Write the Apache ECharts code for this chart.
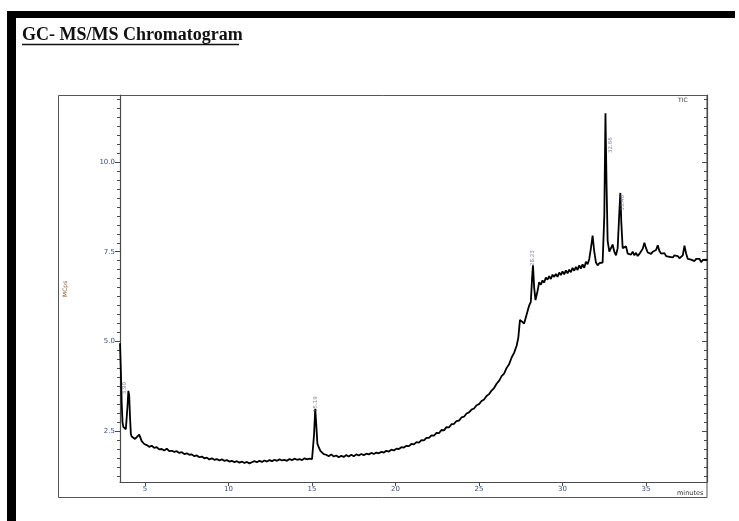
<!DOCTYPE html>
<html>
<head>
<meta charset="utf-8">
<script src="https://cdn.jsdelivr.net/npm/echarts@6/dist/echarts.min.js"></script>
<style>
html,body{margin:0;padding:0;background:#fff;}
#c{width:739px;height:521px;}
</style>
</head>
<body>
<div id="c"></div>
<script>
// Retention times (minutes), read segment by segment
var timesA = [3.50,3.55,3.60,3.65,3.70,3.75,3.80,3.85,3.90,3.95,
              4.00,4.05,4.10,4.15,4.20,4.30,4.40];
var mcpsA  = [4.95,4.20,3.30,2.75,2.62,2.58,2.60,2.55,2.52,3.20,
              3.62,3.50,2.90,2.42,2.35,2.30,2.28];

var timesB = [4.50,4.65,4.80,4.95,5.10,5.25,5.40,5.55,5.70,5.85,
              6.00,6.15,6.30,6.45,6.60,6.75,6.90,7.05,7.20,7.35,
              7.50,7.65,7.80,7.95,8.10,8.25,8.40,8.55,8.70,8.85,
              9.00,9.15,9.30,9.45,9.60,9.75,9.90,10.05,10.20,10.35,
              10.50,10.65,10.80,10.95,11.10,11.25,11.40,11.55,11.70,11.85,
              12.00,12.15,12.30,12.45,12.60,12.75,12.90,13.05,13.20,13.35,
              13.50,13.65,13.80,13.95,14.10,14.25,14.40,14.55,14.70,14.85,
              15.00];
var mcpsB  = [2.30,2.40,2.22,2.14,2.11,2.06,2.09,2.03,2.05,1.99,
              2.00,1.96,2.01,1.94,1.95,1.92,1.94,1.89,1.91,1.86,
              1.88,1.84,1.85,1.80,1.82,1.77,1.79,1.74,1.76,1.71,
              1.74,1.70,1.72,1.68,1.71,1.67,1.69,1.65,1.67,1.63,
              1.66,1.62,1.65,1.61,1.64,1.60,1.63,1.66,1.63,1.67,
              1.64,1.68,1.65,1.69,1.66,1.70,1.67,1.71,1.68,1.70,
              1.67,1.72,1.69,1.73,1.70,1.72,1.69,1.74,1.71,1.73,
              1.72];

var timesC = [15.05,15.12,15.19,15.25,15.32,15.40,15.50,15.60,15.70];
var mcpsC  = [1.75,2.40,3.12,2.70,2.15,2.05,1.95,1.90,1.86];

var timesD = [15.85,16.00,16.15,16.30,16.45,16.60,16.75,16.90,17.05,17.20,
              17.35,17.50,17.65,17.80,17.95,18.10,18.25,18.40,18.55,18.70,
              18.85,19.00,19.15,19.30,19.45,19.60,19.75,19.90,20.05,20.20,
              20.35,20.50,20.65,20.80,20.95,21.10,21.25,21.40,21.55,21.70,
              21.85,22.00,22.15,22.30,22.45,22.60,22.75,22.90,23.05,23.20,
              23.35,23.50,23.65,23.80,23.95,24.10,24.25,24.40,24.55,24.70,
              24.85,25.00,25.15,25.30,25.45,25.60,25.75,25.90,26.05,26.20,
              26.35,26.50,26.65,26.80,26.95,27.10,27.25];
var mcpsD  = [1.84,1.80,1.85,1.79,1.82,1.77,1.81,1.78,1.83,1.79,
              1.84,1.80,1.85,1.82,1.86,1.83,1.87,1.85,1.89,1.86,
              1.90,1.88,1.92,1.90,1.95,1.93,1.98,1.96,2.01,2.00,
              2.05,2.04,2.09,2.08,2.14,2.13,2.19,2.18,2.25,2.24,
              2.31,2.31,2.38,2.37,2.45,2.44,2.53,2.52,2.61,2.60,
              2.69,2.70,2.78,2.79,2.88,2.90,2.99,3.02,3.10,3.13,
              3.22,3.25,3.34,3.38,3.48,3.53,3.63,3.70,3.82,3.90,
              4.03,4.10,4.26,4.36,4.55,4.68,4.88];

var timesE = [27.35,27.45,27.55,27.70,27.85,28.00,28.10,28.18,28.23,28.30,
              28.38,28.50];
var mcpsE  = [5.10,5.60,5.55,5.50,5.75,6.00,6.10,6.80,7.12,6.50,
              6.15,6.40];

var timesF = [28.60,28.70,28.80,28.90,29.00,29.10,29.20,29.30,29.40,29.50,
              29.60,29.70,29.80,29.90,30.00,30.10,30.20,30.30,30.40,30.50,
              30.60,30.70,30.80,30.90,31.00,31.10,31.20,31.30,31.40,31.50,
              31.60,31.70,31.80,31.90,32.00,32.10,32.20,32.30,32.40,32.50,
              32.57,32.63,32.70,32.80,32.90,33.00,33.10,33.20,33.30,33.40,
              33.46,33.52,33.60,33.70,33.80,33.90,34.00,34.10,34.20,34.30,
              34.40,34.50,34.60,34.70,34.80,34.90,35.00,35.10,35.20,35.30,
              35.40,35.50,35.60,35.70,35.80,35.90,36.00,36.10,36.20,36.30,
              36.40,36.50,36.60,36.70,36.80,36.90,37.00,37.10,37.20,37.30,
              37.40,37.50,37.60,37.70,37.80,37.90,38.00,38.10,38.20,38.30,
              38.40,38.50,38.60,38.65];
var mcpsF  = [6.65,6.58,6.70,6.64,6.78,6.72,6.82,6.74,6.86,6.80,
              6.88,6.80,6.92,6.85,6.95,6.87,6.98,6.90,7.00,6.93,
              7.05,6.97,7.08,6.99,7.12,7.03,7.15,7.05,7.22,7.15,
              7.30,7.60,7.95,7.50,7.20,7.12,7.18,7.13,7.20,8.50,
              11.36,9.50,7.80,7.50,7.45,7.70,7.50,7.40,7.60,8.60,
              9.14,8.30,7.60,7.55,7.65,7.45,7.50,7.42,7.50,7.40,
              7.47,7.38,7.44,7.40,7.58,7.75,7.60,7.48,7.52,7.44,
              7.50,7.46,7.55,7.68,7.52,7.45,7.42,7.46,7.38,7.43,
              7.36,7.41,7.34,7.40,7.35,7.38,7.32,7.37,7.40,7.67,
              7.45,7.30,7.34,7.28,7.32,7.24,7.30,7.26,7.30,7.21,
              7.27,7.24,7.28,7.25];

var times = [].concat(timesA, timesB, timesC, timesD, timesE, timesF);
var mcps  = [].concat(mcpsA, mcpsB, mcpsC, mcpsD, mcpsE, mcpsF);

// Peak annotations
var peakNames = ["3.90","15.19","28.23","32.66","33.46"];
var peakLabelTimes = [3.80,15.24,28.23,32.88,33.62];
var peakLabelValues = [3.70,3.25,7.32,10.47,8.86];
// Axis ticks
var xTickLabels = [5,10,15,20,25,30,35];
var yTickLabels = [2.5,5.0,7.5,10.0];
var yMin = 1.08, yMax = 11.87, xMin = 3.5, xMax = 38.65;
var yMinorTicks = [];
for (var k = 5; k <= 47; k++) { yMinorTicks.push(k * 0.25); }

var lineData = times.map(function(t, i){ return [t, mcps[i]]; });
var peakData = peakNames.map(function(n, i){ return {name: n, value: [peakLabelTimes[i], peakLabelValues[i]]}; });

var axisCol = '#4a4a4a';
var lblCol = '#3e4f7c';

var chart = echarts.init(document.getElementById('c'), null, {renderer: 'canvas'});
chart.setOption({
  backgroundColor: '#fff',
  animation: false,
  grid: {left: 120, top: 95, right: 32, bottom: 39, containLabel: false},
  xAxis: {
    type: 'value', min: xMin, max: xMax,
    axisLine: {show: true, lineStyle: {color: axisCol, width: 1.2}},
    axisTick: {show: true, customValues: xTickLabels, length: 4, lineStyle: {color: axisCol}},
    axisLabel: {show: true, customValues: xTickLabels, fontSize: 7, color: lblCol, margin: 4, fontFamily: 'DejaVu Sans'},
    splitLine: {show: false}
  },
  yAxis: [
    {
      type: 'value', min: yMin, max: yMax, position: 'left',
      axisLine: {show: true, lineStyle: {color: axisCol, width: 1.2}},
      axisTick: {show: true, customValues: yTickLabels, length: 5, lineStyle: {color: axisCol}},
      axisLabel: {show: true, customValues: yTickLabels, fontSize: 7, color: lblCol, margin: 5, fontFamily: 'DejaVu Sans',
        formatter: function(v){ return v.toFixed(1); }},
      splitLine: {show: false}
    },
    {
      type: 'value', min: yMin, max: yMax, position: 'left',
      axisLine: {show: false},
      axisTick: {show: true, customValues: yMinorTicks, length: 3, lineStyle: {color: axisCol}},
      axisLabel: {show: false},
      splitLine: {show: false}
    },
    {
      type: 'value', min: yMin, max: yMax, position: 'right',
      axisLine: {show: true, lineStyle: {color: axisCol, width: 1.2}},
      axisTick: {show: true, inside: true, customValues: yMinorTicks, length: 3, lineStyle: {color: axisCol}},
      axisLabel: {show: false},
      splitLine: {show: false}
    },
    {
      type: 'value', min: yMin, max: yMax, position: 'right',
      axisLine: {show: false},
      axisTick: {show: true, inside: true, customValues: yTickLabels, length: 5, lineStyle: {color: axisCol}},
      axisLabel: {show: false},
      splitLine: {show: false}
    }
  ],
  series: [
    {
      type: 'line', data: lineData, showSymbol: false, symbol: 'none',
      lineStyle: {color: '#000', width: 1.8}, z: 3
    },
    {
      type: 'scatter', data: peakData, symbolSize: 1, itemStyle: {color: 'rgba(0,0,0,0)'},
      label: {show: true, position: 'inside', rotate: 90, formatter: '{b}', fontSize: 5.5,
        color: '#66658a', fontFamily: 'DejaVu Sans'},
      z: 4
    }
  ],
  graphic: [
    {type: 'rect', shape: {x: 7, y: 11, width: 728, height: 7}, style: {fill: '#000'}, silent: true},
    {type: 'rect', shape: {x: 7, y: 11, width: 9, height: 520}, style: {fill: '#000'}, silent: true},
    {type: 'text', x: 22, y: 26, style: {text: 'GC- MS/MS Chromatogram', font: 'bold 18px "Liberation Serif"', fill: '#111'}},
    {type: 'line', shape: {x1: 22, y1: 44.5, x2: 239, y2: 44.5}, style: {stroke: '#111', lineWidth: 1.5}},
    {type: 'rect', shape: {x: 58.5, y: 95.5, width: 648.5, height: 402}, style: {fill: 'none', stroke: '#555', lineWidth: 1}, z: -1},
    {type: 'text', x: 678, y: 97, style: {text: 'TIC', font: '6px "DejaVu Sans"', fill: '#333'}},
    {type: 'text', x: 677, y: 490, style: {text: 'minutes', font: '6.5px "DejaVu Sans"', fill: '#333'}},
    {type: 'text', x: 62, y: 297, rotation: Math.PI/2, style: {text: 'MCps', font: '6px "DejaVu Sans"', fill: '#8a5a2a'}}
  ]
});
</script>
</body>
</html>
